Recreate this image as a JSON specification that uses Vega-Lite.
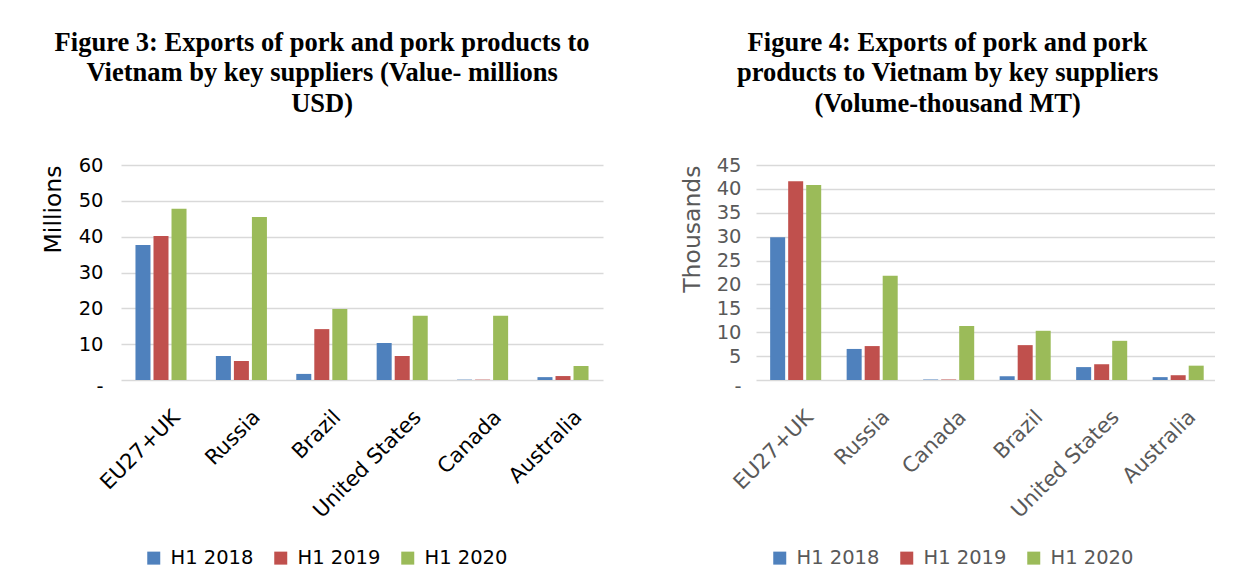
{
  "$schema": "https://vega.github.io/schema/vega-lite/v6.json",
  "padding": {"left": 41, "top": 29, "right": 0, "bottom": 0},
  "background": "white",
  "config": {
    "font": "DejaVu Sans",
    "view": {"stroke": null},
    "title": {"font": "Liberation Serif", "fontSize": 26.5, "fontWeight": "bold", "color": "#000000", "lineHeight": 30.5, "anchor": "middle", "frame": "bounds", "offset": 38},
    "axisX": {"domain": false, "ticks": false, "grid": false, "labelAngle": -45, "labelAlign": "right", "labelBaseline": "top", "labelPadding": 26, "labelOffset": 8, "labelFontSize": 21, "title": null},
    "axisY": {"domain": false, "ticks": false, "tickSize": 0, "grid": true, "gridColor": "#d9d9d9", "gridWidth": 1.5, "labelFontSize": 19.5, "labelPadding": 18, "titleFontSize": 23.5, "titleFontWeight": "normal", "titlePadding": 13, "titleAnchor": "end", "labelOffset": {"condition": {"test": "datum.value === 0", "value": 6}, "value": 0}},
    "legend": {"orient": "none", "direction": "horizontal", "title": null, "symbolType": "square", "symbolSize": 169, "symbolStrokeWidth": 0, "labelFontSize": 19.5, "columnPadding": 17, "labelOffset": 7}
  },
  "spacing": 77,
  "resolve": {"scale": {"x": "independent", "y": "independent", "color": "independent"}, "legend": {"color": "independent"}},
  "hconcat": [
    {
      "title": {"text": ["Figure 3: Exports of pork and pork products to", "Vietnam by key suppliers (Value- millions", "USD)"]},
      "width": 482,
      "height": 215,
      "data": {"values": [
        {"supplier": "EU27+UK", "period": "H1 2018", "value": 37.7},
        {"supplier": "EU27+UK", "period": "H1 2019", "value": 40.2},
        {"supplier": "EU27+UK", "period": "H1 2020", "value": 47.8},
        {"supplier": "Russia", "period": "H1 2018", "value": 6.7},
        {"supplier": "Russia", "period": "H1 2019", "value": 5.3},
        {"supplier": "Russia", "period": "H1 2020", "value": 45.5},
        {"supplier": "Brazil", "period": "H1 2018", "value": 1.7},
        {"supplier": "Brazil", "period": "H1 2019", "value": 14.2},
        {"supplier": "Brazil", "period": "H1 2020", "value": 19.8},
        {"supplier": "United States", "period": "H1 2018", "value": 10.3},
        {"supplier": "United States", "period": "H1 2019", "value": 6.7},
        {"supplier": "United States", "period": "H1 2020", "value": 17.9},
        {"supplier": "Canada", "period": "H1 2018", "value": 0.1},
        {"supplier": "Canada", "period": "H1 2019", "value": 0.1},
        {"supplier": "Canada", "period": "H1 2020", "value": 17.9},
        {"supplier": "Australia", "period": "H1 2018", "value": 0.8},
        {"supplier": "Australia", "period": "H1 2019", "value": 1.1},
        {"supplier": "Australia", "period": "H1 2020", "value": 3.9}
      ]},
      "mark": {"type": "bar"},
      "encoding": {
        "x": {"field": "supplier", "type": "nominal", "sort": ["EU27+UK", "Russia", "Brazil", "United States", "Canada", "Australia"], "scale": {"paddingInner": 0.365, "paddingOuter": 0.18}, "axis": {"labelColor": "#000000"}},
        "xOffset": {"field": "period", "type": "nominal", "scale": {"paddingInner": 0.167, "paddingOuter": 0}},
        "y": {"field": "value", "type": "quantitative", "scale": {"domain": [0, 60]}, "axis": {"values": [0, 10, 20, 30, 40, 50, 60], "title": "Millions", "labelColor": "#000000", "titleColor": "#000000", "labelExpr": "datum.value == 0 ? '-' : datum.label"}},
        "color": {"field": "period", "type": "nominal", "scale": {"domain": ["H1 2018", "H1 2019", "H1 2020"], "range": ["#4f81bd", "#c0504d", "#9bbb59"]}, "legend": {"legendX": 23, "legendY": 383, "labelColor": "#000000"}}
      }
    },
    {
      "title": {"text": ["Figure 4: Exports of pork and pork", "products to Vietnam by key suppliers", "(Volume-thousand MT)"]},
      "width": 459,
      "height": 215,
      "data": {"values": [
        {"supplier": "EU27+UK", "period": "H1 2018", "value": 29.9},
        {"supplier": "EU27+UK", "period": "H1 2019", "value": 41.6},
        {"supplier": "EU27+UK", "period": "H1 2020", "value": 40.8},
        {"supplier": "Russia", "period": "H1 2018", "value": 6.5},
        {"supplier": "Russia", "period": "H1 2019", "value": 7.1},
        {"supplier": "Russia", "period": "H1 2020", "value": 21.8},
        {"supplier": "Canada", "period": "H1 2018", "value": 0.1},
        {"supplier": "Canada", "period": "H1 2019", "value": 0.1},
        {"supplier": "Canada", "period": "H1 2020", "value": 11.3},
        {"supplier": "Brazil", "period": "H1 2018", "value": 0.8},
        {"supplier": "Brazil", "period": "H1 2019", "value": 7.3},
        {"supplier": "Brazil", "period": "H1 2020", "value": 10.3},
        {"supplier": "United States", "period": "H1 2018", "value": 2.7},
        {"supplier": "United States", "period": "H1 2019", "value": 3.3},
        {"supplier": "United States", "period": "H1 2020", "value": 8.2},
        {"supplier": "Australia", "period": "H1 2018", "value": 0.6},
        {"supplier": "Australia", "period": "H1 2019", "value": 1.0},
        {"supplier": "Australia", "period": "H1 2020", "value": 3.0}
      ]},
      "mark": {"type": "bar"},
      "encoding": {
        "x": {"field": "supplier", "type": "nominal", "sort": ["EU27+UK", "Russia", "Canada", "Brazil", "United States", "Australia"], "scale": {"paddingInner": 0.37, "paddingOuter": 0.185}, "axis": {"labelColor": "#595959"}},
        "xOffset": {"field": "period", "type": "nominal", "scale": {"paddingInner": 0.176, "paddingOuter": 0}},
        "y": {"field": "value", "type": "quantitative", "scale": {"domain": [0, 45]}, "axis": {"values": [0, 5, 10, 15, 20, 25, 30, 35, 40, 45], "title": "Thousands", "labelColor": "#595959", "titleColor": "#595959", "labelPadding": 15, "titlePadding": 12, "labelExpr": "datum.value == 0 ? '-' : datum.label"}},
        "color": {"field": "period", "type": "nominal", "scale": {"domain": ["H1 2018", "H1 2019", "H1 2020"], "range": ["#4f81bd", "#c0504d", "#9bbb59"]}, "legend": {"legendX": 14, "legendY": 383, "labelColor": "#595959"}}
      }
    }
  ]
}
